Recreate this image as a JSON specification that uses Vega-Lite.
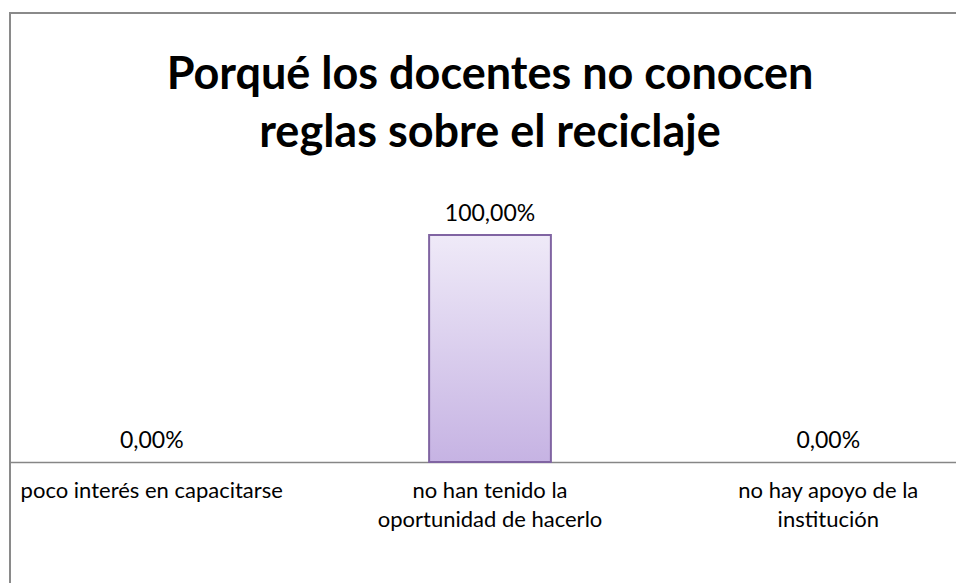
{
  "$schema": "https://vega.github.io/schema/vega-lite/v6.json",
  "autosize": "none",
  "width": 960,
  "height": 600,
  "padding": {"left": 10, "top": 13, "right": 0, "bottom": 0},
  "background": "white",
  "title": {
    "text": ["Porqué los docentes no conocen", "reglas sobre el reciclaje"],
    "font": "Lato",
    "fontSize": 45,
    "fontWeight": "bold",
    "color": "#000000",
    "lineHeight": 58,
    "offset": -143,
    "anchor": "middle",
    "frame": "group"
  },
  "config": {"view": {"stroke": "#8a8a8a", "strokeWidth": 2}},
  "data": {"values": [
    {"cat": "poco interés en capacitarse", "v": 0, "t": "0,00%"},
    {"cat": "no han tenido la oportunidad de hacerlo", "v": 1, "t": "100,00%"},
    {"cat": "no hay apoyo de la institución", "v": 0, "t": "0,00%"}
  ]},
  "encoding": {
    "x": {"field": "cat", "type": "nominal", "sort": null,
      "scale": {"paddingInner": 0.64, "paddingOuter": 0.239},
      "axis": {"title": null, "labelAngle": 0, "labelFont": "Lato", "labelFontSize": 22, "labelColor": "#000000", "labelLimit": 500,
        "labelExpr": "datum.label == 'poco interés en capacitarse' ? 'poco interés en capacitarse' : datum.label == 'no han tenido la oportunidad de hacerlo' ? ['no han tenido la', 'oportunidad de hacerlo'] : ['no hay apoyo de la', 'institución']",
        "labelPadding": 18, "labelLineHeight": 29, "labelBaseline": "top", "ticks": false, "domainColor": "#868686", "domainWidth": 1.3, "offset": -151}}
  },
  "layer": [
    {
      "mark": {"type": "bar", "stroke": "#8064A2", "strokeWidth": 2,
        "color": {"gradient": "linear", "x1": 0, "y1": 0, "x2": 0, "y2": 1,
          "stops": [{"offset": 0, "color": "#EFEAF8"}, {"offset": 1, "color": "#C6B3E3"}]}},
      "encoding": {
        "y": {"field": "v", "type": "quantitative", "scale": {"domain": [0, 1], "range": [449, 222]}, "axis": null},
        "strokeOpacity": {"condition": {"test": "datum.v > 0", "value": 1}, "value": 0}
      }
    },
    {
      "mark": {"type": "text", "font": "Lato", "fontSize": 23, "color": "#000000", "baseline": "bottom", "dy": -9},
      "encoding": {"y": {"field": "v", "type": "quantitative", "scale": {"domain": [0, 1], "range": [449, 222]}}, "text": {"field": "t"}}
    }
  ]
}
